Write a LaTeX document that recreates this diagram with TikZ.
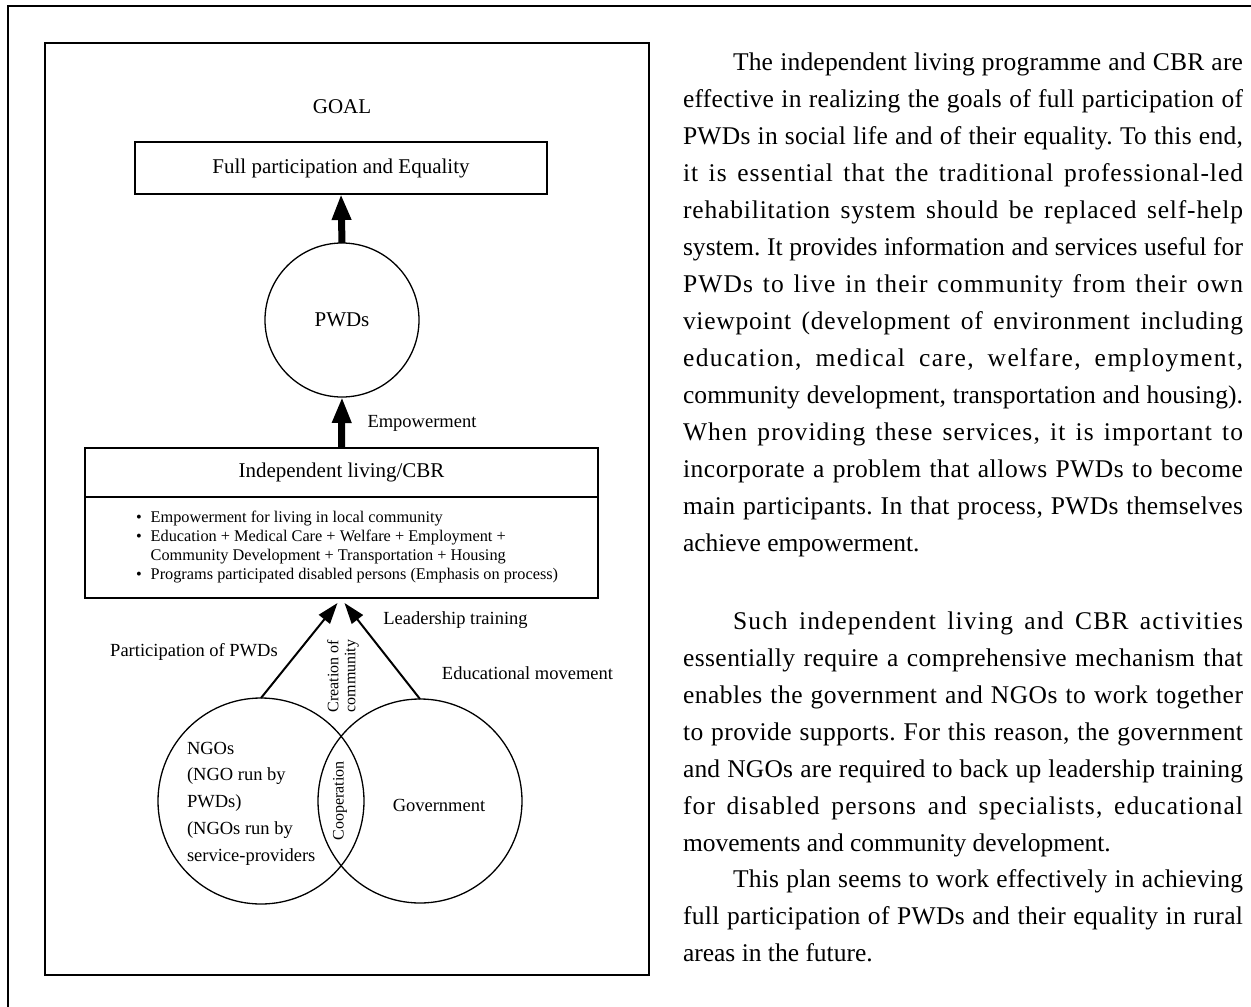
\documentclass[tikz,border=0pt]{standalone}
\usepackage{fontspec}
\setmainfont{Liberation Serif}
\usetikzlibrary{arrows.meta,calc}
\frenchspacing

\newcommand\fsz[2]{\fontsize{#1}{#2}\selectfont}

% A justified line of the side text: part of the spare room goes into
% letter spacing, the rest into the word spaces.
\ExplSyntaxOn
\box_new:N \l__jl_plain_box
\box_new:N \l__jl_wide_box
\fp_new:N \l__jl_ls_fp
\cs_new_protected:Npn \jlcore #1 #2
 {
  \hbox_set:Nn \l__jl_plain_box { #2 }
  \hbox_set:Nn \l__jl_wide_box { \addfontfeature{LetterSpace=10} #2 }
  \fp_set:Nn \l__jl_ls_fp
   { 0.7 * 10 * ( \dim_to_fp:n {#1} - \dim_to_fp:n { \box_wd:N \l__jl_plain_box } )
     / ( \dim_to_fp:n { \box_wd:N \l__jl_wide_box } - \dim_to_fp:n { \box_wd:N \l__jl_plain_box } ) }
  \fp_compare:nNnT \l__jl_ls_fp < { 0 } { \fp_set:Nn \l__jl_ls_fp { 0 } }
  \makebox[#1][s]
   {
    \use:x { \exp_not:N \addfontfeature { LetterSpace = \fp_eval:n { round(\l__jl_ls_fp, 2) } } }
    #2
   }
 }
\NewDocumentCommand \jl  { m } { \jlcore { 560pt } { #1 } }
\NewDocumentCommand \jli { m } { \jlcore { 510pt } { #1 } }
\ExplSyntaxOff

\begin{document}
\begin{tikzpicture}[x=1pt,y=-1pt,
  every node/.style={inner sep=0pt, outer sep=0pt},
  big/.style={font=\fsz{21}{25}},
  lbl/.style={font=\fsz{18.5}{22}},
  small/.style={font=\fsz{16}{17}},
  boxed/.style={draw, line width=1.3pt},
  thickarrow/.style={line width=7pt, -{Triangle[length=26pt,width=18pt]}},
  thinarrow/.style={line width=2pt, -{Triangle[length=21pt,width=14pt]}},
  para/.style={anchor=base west, font=\fsz{25.5}{37}},
]
\useasboundingbox (0,0) rectangle (1251,1007);

% page frame and figure frame
\draw[line width=2.5pt] (8,1007) -- (8,6) -- (1251,6);
\draw[line width=1.3pt] (45,43) rectangle (649,975);

% goal
\node[big] (goal) at (342,107) {GOAL};
\node[boxed, big, minimum width=412pt, minimum height=52pt] (full) at (341,168) {Full participation and Equality};

% PWDs
\node[boxed, circle, big, minimum size=154pt] (pwd) at (342,320) {PWDs};
\draw[thickarrow] (pwd.north) -- (full.south);

% independent living / CBR
\node[boxed, big, minimum width=513pt, minimum height=49pt] (ilhead) at (341.5,472.5) {Independent living/CBR};
\node[boxed, minimum width=513pt, minimum height=101pt, anchor=north] (ilbody) at (ilhead.south) {};
\node[anchor=west, font=\fsz{16.3}{19}] (iltext) at (136,547)
  {\begin{tabular}{@{}l@{\hspace{9pt}}l@{}}
   \textbullet & Empowerment for living in local community\\
   \textbullet & Education + Medical Care + Welfare + Employment +\\
               & Community Development + Transportation + Housing\\
   \textbullet & Programs participated disabled persons (Emphasis on process)
  \end{tabular}};
\draw[thickarrow] (ilhead.north) -- (pwd.south);
\node[lbl] (emp) at (422,423) {Empowerment};

% NGOs and government
\node[boxed, circle, minimum size=206pt] (ngo) at (261,801) {};
\node[boxed, circle, minimum size=204pt] (gov) at (420,801) {};
\node[lbl, anchor=west, align=left, font=\fsz{18.5}{26.7}] (ngotext) at (187,803.5)
  {NGOs\\(NGO run by\\PWDs)\\(NGOs run by\\service-providers};
\node[lbl] (govtext) at (439,805) {Government};
\node[small, rotate=90] (coop) at (340,801) {Cooperation};
\node[small, rotate=90, align=center] (creation) at (343,676) {Creation of\\community};

\coordinate (tipL) at ($(ilbody.south)+(-4,5)$);
\coordinate (tipR) at ($(ilbody.south)+(3,5)$);
\draw[thinarrow] (ngo.north) -- (tipL);
\draw[thinarrow] (gov.north) -- (tipR);
\node[lbl] (partic) at (194,652) {Participation of PWDs};
\node[lbl] (leader) at (455.5,620) {Leadership training};
\node[lbl] (educ) at (527.5,673) {Educational movement};

% side text
\node[para] (p1)  at (733,70)  {\jli{The independent living programme and CBR are}};
\node[para] (p2)  at (683,107) {\jl{effective in realizing the goals of full participation of}};
\node[para] (p3)  at (683,144) {\jl{PWDs in social life and of their equality. To this end,}};
\node[para] (p4)  at (683,181) {\jl{it is essential that the traditional professional-led}};
\node[para] (p5)  at (683,218) {\jl{rehabilitation system should be replaced self-help}};
\node[para] (p6)  at (683,255) {\jl{system. It provides information and services useful for}};
\node[para] (p7)  at (683,292) {\jl{PWDs to live in their community from their own}};
\node[para] (p8)  at (683,329) {\jl{viewpoint (development of environment including}};
\node[para] (p9)  at (683,366) {\jl{education, medical care, welfare, employment,}};
\node[para] (p10) at (683,403) {\jl{community development, transportation and housing).}};
\node[para] (p11) at (683,440) {\jl{When providing these services, it is important to}};
\node[para] (p12) at (683,477) {\jl{incorporate a problem that allows PWDs to become}};
\node[para] (p13) at (683,514) {\jl{main participants. In that process, PWDs themselves}};
\node[para] (p14) at (683,551) {achieve empowerment.};

\node[para] (p15) at (733,629) {\jli{Such independent living and CBR activities}};
\node[para] (p16) at (683,666) {\jl{essentially require a comprehensive mechanism that}};
\node[para] (p17) at (683,703) {\jl{enables the government and NGOs to work together}};
\node[para] (p18) at (683,740) {\jl{to provide supports. For this reason, the government}};
\node[para] (p19) at (683,777) {\jl{and NGOs are required to back up leadership training}};
\node[para] (p20) at (683,814) {\jl{for disabled persons and specialists, educational}};
\node[para] (p21) at (683,851) {movements and community development.};

\node[para] (p22) at (733,887) {\jli{This plan seems to work effectively in achieving}};
\node[para] (p23) at (683,924) {\jl{full participation of PWDs and their equality in rural}};
\node[para] (p24) at (683,961) {areas in the future.};
\end{tikzpicture}
\end{document}
